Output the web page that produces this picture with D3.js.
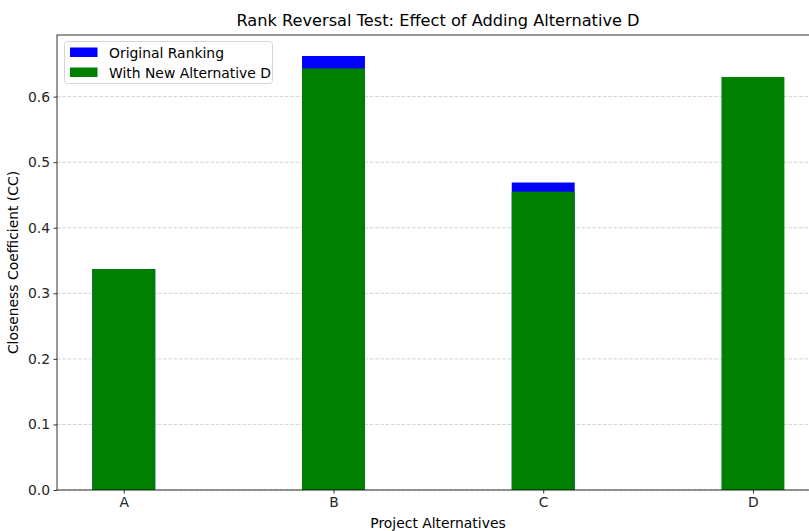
<!DOCTYPE html>
<html><head><meta charset="utf-8">
<script src="https://cdn.jsdelivr.net/npm/d3@7"></script>
<style>body{margin:0;background:#fff;} svg{display:block;font-family:"DejaVu Sans",sans-serif;}</style>
</head><body><svg id="c" width="809" height="531"></svg>
<script>
const categories = ["A","B","C","D"];
const originalCC = [0.337, 0.662, 0.469, 0];
const newCC = [0.337, 0.643, 0.455, 0.630];
const yTicks = [0.0,0.1,0.2,0.3,0.4,0.5,0.6];
const seriesNames = ["Original Ranking","With New Alternative D"];
const seriesColors = ["#0000ff","#008000"];

(function(){
const svg = d3.select("#c");
const mL = 57, mR = 819, mT = 35, mB = 490;
const barW = 0.3;
const x = d3.scaleLinear().domain([-0.315, 3.315]).range([mL + 0.7, mR]);
const y = d3.scaleLinear().domain([0, 0.694]).range([mB, mT]);

// grid
svg.append("g").selectAll("line").data(yTicks).join("line")
  .attr("x1", mL).attr("x2", mR)
  .attr("y1", d=>y(d)).attr("y2", d=>y(d))
  .attr("stroke", "#b0b0b0").attr("stroke-opacity",0.7).attr("stroke-width",0.8)
  .attr("stroke-dasharray","3.7,1.6");

// bars
const series = [originalCC, newCC];
series.forEach((vals, si) => {
  svg.append("g").selectAll("rect").data(vals.map((v,i)=>({v,i}))).join("rect")
    .attr("x", d=>x(d.i - barW/2)).attr("width", d=>x(barW)-x(0))
    .attr("y", d=>y(d.v)).attr("height", d=>y(0)-y(d.v))
    .attr("fill", seriesColors[si]);
});

// axes
const xAxis = d3.axisBottom(x).tickValues(d3.range(categories.length)).tickFormat(i=>categories[i]).tickSize(3.5).tickPadding(3.5);
const gx = svg.append("g").attr("transform",`translate(0,${mB})`).call(xAxis);
const yAxis = d3.axisLeft(y).tickValues(yTicks).tickFormat(d3.format(".1f")).tickSize(3.5).tickPadding(3.5);
const gy = svg.append("g").attr("transform",`translate(${mL},0)`).call(yAxis);
[gx,gy].forEach(g=>{
  g.selectAll("text").attr("font-size","13.9px").attr("fill","#262626").attr("font-family","DejaVu Sans");
  g.selectAll(".domain").remove();
  g.selectAll(".tick line").attr("stroke","#000").attr("stroke-width",0.8);
});

// spines
svg.append("rect").attr("x",mL).attr("y",mT).attr("width",mR-mL).attr("height",mB-mT)
  .attr("fill","none").attr("stroke","#000").attr("stroke-width",0.8);

// title & labels
svg.append("text").attr("x",(mL+mR)/2).attr("y",26).attr("text-anchor","middle")
  .attr("font-size","16.2px").attr("fill","#000").text("Rank Reversal Test: Effect of Adding Alternative D");
svg.append("text").attr("x",(mL+mR)/2).attr("y",528).attr("text-anchor","middle")
  .attr("font-size","13.9px").attr("fill","#000").text("Project Alternatives");
svg.append("text").attr("transform",`translate(18,${(mT+mB)/2}) rotate(-90)`).attr("text-anchor","middle")
  .attr("font-size","13.9px").attr("fill","#000").text("Closeness Coefficient (CC)");

// legend
const lg = svg.append("g");
lg.append("rect").attr("x",64.5).attr("y",41.5).attr("width",208).attr("height",42).attr("rx",3)
  .attr("fill","#fff").attr("fill-opacity",0.8).attr("stroke","#d6d6d6").attr("stroke-width",1);
seriesNames.forEach((n,i)=>{
  lg.append("rect").attr("x",70).attr("y",47.5+i*20).attr("width",27.5).attr("height",9.5).attr("fill",seriesColors[i]);
  lg.append("text").attr("x",109).attr("y",57.5+i*20).attr("font-size","13.9px").attr("fill","#000").text(n);
});
})();
</script></body></html>
